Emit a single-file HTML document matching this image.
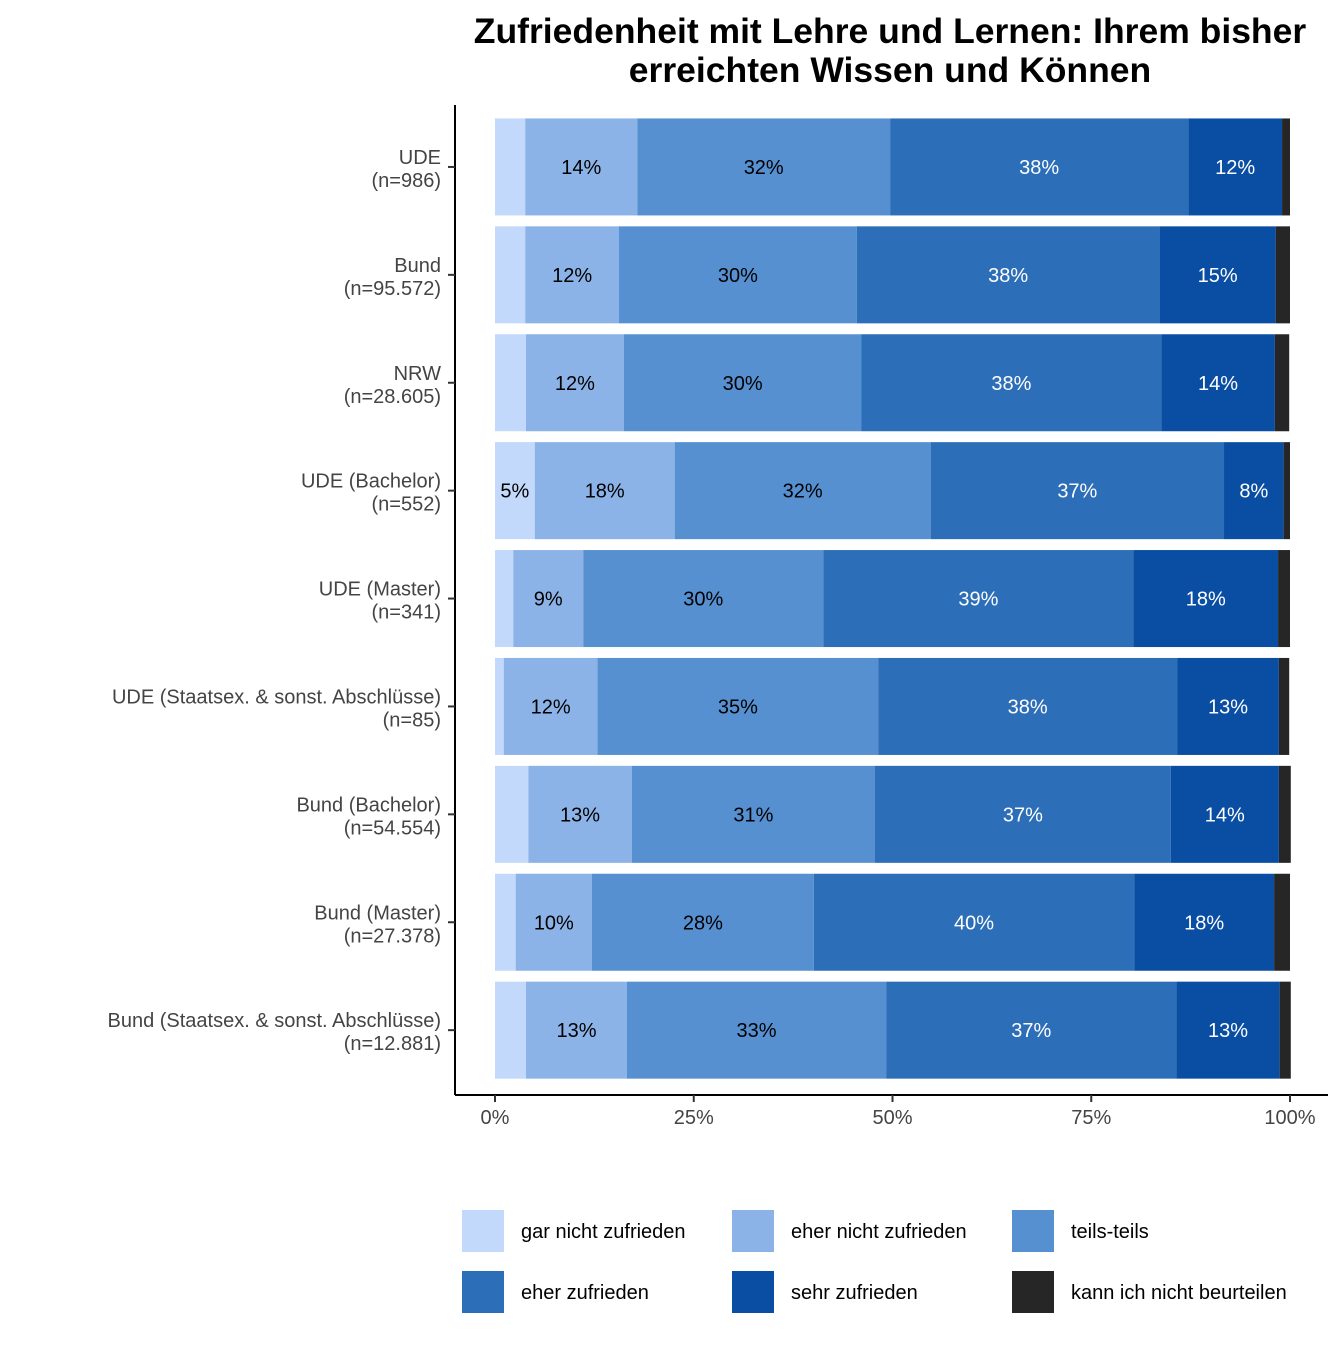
<!DOCTYPE html>
<html><head><meta charset="utf-8"><style>
body{margin:0;background:#fff;font-family:"Liberation Sans",Arial,sans-serif}
svg text{font-family:"Liberation Sans",Arial,sans-serif}
</style></head><body>
<svg id="chart" width="1344" height="1344" xmlns="http://www.w3.org/2000/svg">
<text x="890" y="43" text-anchor="middle" font-size="35.5" font-weight="bold">Zufriedenheit mit Lehre und Lernen: Ihrem bisher</text>
<text x="890" y="82" text-anchor="middle" font-size="35.5" font-weight="bold">erreichten Wissen und Können</text>
<g id="bars"></g>
<line x1="455" y1="105" x2="455" y2="1095" stroke="#000" stroke-width="2"/>
<line x1="455" y1="1095" x2="1328" y2="1095" stroke="#000" stroke-width="2"/>
<g id="axes"></g>
<g id="legend"></g>
</svg>
<script>
const categories=["UDE|(n=986)","Bund|(n=95.572)","NRW|(n=28.605)","UDE (Bachelor)|(n=552)","UDE (Master)|(n=341)","UDE (Staatsex. & sonst. Abschlüsse)|(n=85)","Bund (Bachelor)|(n=54.554)","Bund (Master)|(n=27.378)","Bund (Staatsex. & sonst. Abschlüsse)|(n=12.881)"];
const seriesNames=["gar nicht zufrieden","eher nicht zufrieden","teils-teils","eher zufrieden","sehr zufrieden","kann ich nicht beurteilen"];
const garNicht=[3.8,3.8,3.9,5.0,2.3,1.1,4.2,2.6,3.9];
const eherNicht=[14.1,11.8,12.3,17.6,8.8,11.8,13.0,9.6,12.7];
const teils=[31.8,29.9,29.9,32.2,30.2,35.3,30.6,27.9,32.6];
const eherZuf=[37.5,38.1,37.7,36.9,39.0,37.6,37.2,40.3,36.5];
const sehrZuf=[11.8,14.6,14.3,7.5,18.2,12.8,13.6,17.6,13.0];
const kannNicht=[1.0,1.8,1.8,0.8,1.5,1.3,1.5,2.0,1.4];
const xTicks=[0,25,50,75,100];
const colors=["#c3d9fb","#8cb3e7","#5690d1","#2c6eb7","#0a4ea4","#262626"];
const textColors=["#000","#000","#000","#fff","#fff","#fff"];
const series=[garNicht,eherNicht,teils,eherZuf,sehrZuf,kannNicht];
const NS="http://www.w3.org/2000/svg";
const x0=495,x1=1290;
const xs=v=>x0+(x1-x0)*v/100;
const barTop=113,step=107.9,barH=97;
const yc=i=>barTop+step*i+step/2;
function mk(t,a,p){const e=document.createElementNS(NS,t);for(const k in a)e.setAttribute(k,a[k]);p.appendChild(e);return e;}
const bars=document.getElementById('bars'),axes=document.getElementById('axes'),leg=document.getElementById('legend');
categories.forEach((c,i)=>{
  let cum=0;
  series.forEach((s,j)=>{
    const v=s[i];
    const r=mk('rect',{x:xs(cum),y:yc(i)-barH/2,width:xs(cum+v)-xs(cum),height:barH,fill:colors[j]},bars);
    
    
    if(v>=4.5){
      const t=mk('text',{x:(xs(cum)+xs(cum+v))/2,y:yc(i)+7,'text-anchor':'middle','font-size':20,fill:textColors[j]},bars);
      t.textContent=Math.round(v)+'%';
      
      
    }
    cum+=v;
  });
  const parts=c.split('|');
  const l=mk('text',{x:441,y:yc(i)-3,'text-anchor':'end','font-size':20,fill:'#444'},axes);
  
  
  mk('tspan',{x:441},l).textContent=parts[0];
  mk('tspan',{x:441,dy:23},l).textContent=parts[1];
  mk('line',{x1:448,x2:455,y1:yc(i),y2:yc(i),stroke:'#333','stroke-width':2},axes);
});
xTicks.forEach(v=>{
  mk('line',{x1:xs(v),x2:xs(v),y1:1095,y2:1102,stroke:'#333','stroke-width':2},axes);
  const t=mk('text',{x:xs(v),y:1124,'text-anchor':'middle','font-size':20,fill:'#444'},axes);
  t.textContent=v+'%';
  
  
});
const lx=[462,732,1012],ly=[1210,1271];
seriesNames.forEach((n,j)=>{
  const x=lx[j%3],y=ly[Math.floor(j/3)];
  const r=mk('rect',{x:x,y:y,width:42,height:42,fill:colors[j]},leg);
  
  
  const t=mk('text',{x:x+59,y:y+28,'font-size':20,fill:'#000'},leg);
  t.textContent=n;
  
  
});
</script>
</body></html>
